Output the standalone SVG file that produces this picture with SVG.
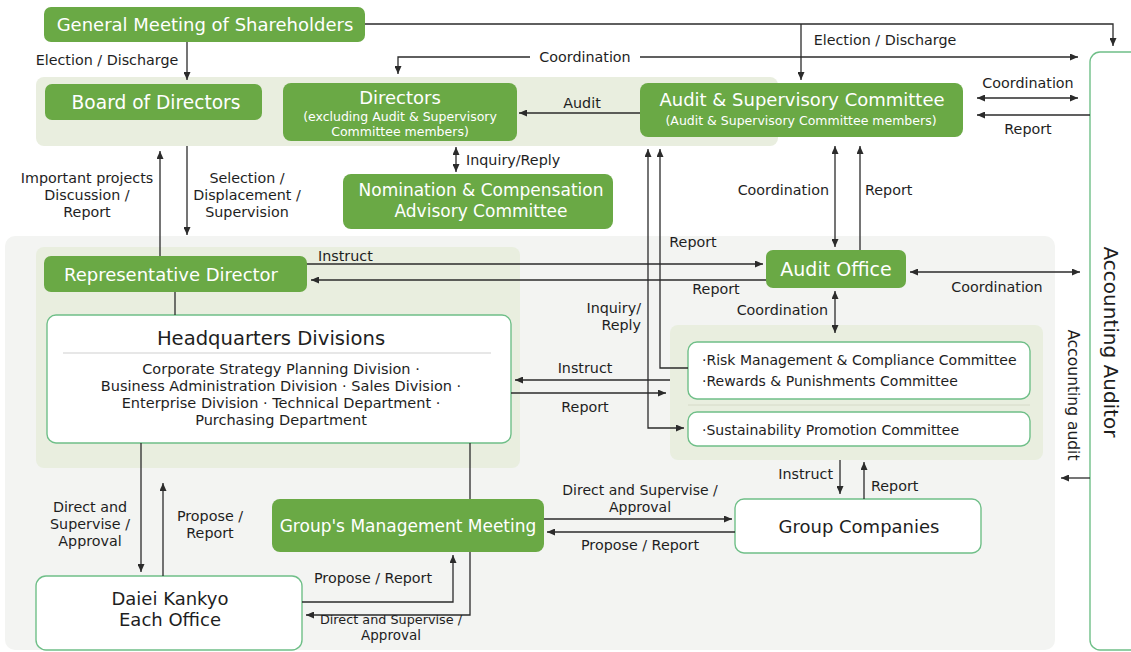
<svg xmlns="http://www.w3.org/2000/svg" width="1131" height="652" viewBox="0 0 1131 652">
<defs>
<marker id="ar" viewBox="0 0 8 7" refX="8" refY="3.5" markerWidth="8" markerHeight="7" markerUnits="userSpaceOnUse" orient="auto-start-reverse">
<path d="M0,0 L8,3.5 L0,7 z" fill="#2b2b2b"/>
</marker>
<style>
text{font-family:"DejaVu Sans","Noto Sans",sans-serif}
.g{fill:#6aa945}
.w{fill:#fff;stroke:#6fbf88;stroke-width:1.4}
.band{fill:#e9eedf}
.tw{fill:#fff;font-size:18px;text-anchor:middle}
.ts{fill:#fff;font-size:12.5px;text-anchor:middle}
.td{fill:#1e1e1e;font-size:18px;text-anchor:middle}
.tb{fill:#1e1e1e;font-size:14px}
.lb{fill:#1e1e1e;font-size:14.3px}
.m{text-anchor:middle}
.e{text-anchor:end}
.c path{fill:none;stroke:#2b2b2b;stroke-width:1.3}
.c .a{marker-end:url(#ar)}
.c .b{marker-start:url(#ar);marker-end:url(#ar)}
</style>
</defs>
<rect width="1131" height="652" fill="#fff"/>
<!-- background regions -->
<rect x="36" y="77" width="742" height="69" rx="8" class="band"/>
<rect x="5" y="236" width="1050" height="414" rx="10" fill="#f3f4f2"/>
<rect x="36" y="247" width="484" height="221" rx="8" class="band"/>
<rect x="670" y="325" width="373" height="135" rx="8" class="band"/>
<line x1="688" y1="405" x2="1030" y2="405" stroke="#d6dac8" stroke-width="1"/>

<g id="gms"><rect x="44" y="7" width="321" height="35" rx="7" class="g"/><text x="205" y="31" class="tw">General Meeting of Shareholders</text></g>
<g id="board"><rect x="45" y="84" width="217" height="36" rx="7" class="g"/><text x="156" y="109" class="tw" style="font-size:18.6px">Board of Directors</text></g>
<g id="directors"><rect x="283" y="83" width="234" height="58" rx="8" class="g"/><text x="400" y="104" class="tw">Directors</text><text x="400" y="121" class="ts">(excluding Audit &amp; Supervisory</text><text x="400" y="135.5" class="ts">Committee members)</text></g>
<g id="asc"><rect x="640" y="83" width="323" height="54" rx="8" class="g"/><text x="802" y="106" class="tw">Audit &amp; Supervisory Committee</text><text x="801" y="125" class="ts">(Audit &amp; Supervisory Committee members)</text></g>
<g id="nomination"><rect x="343" y="174" width="270" height="55" rx="8" class="g"/><text x="481" y="196" class="tw" style="font-size:17px">Nomination &amp; Compensation</text><text x="481" y="217" class="tw" style="font-size:17px">Advisory Committee</text></g>
<g id="rep"><rect x="44" y="256" width="263" height="36" rx="7" class="g"/><text x="171" y="281" class="tw">Representative Director</text></g>
<g id="hq"><rect x="47" y="315" width="464" height="128" rx="9" class="w"/><text x="271" y="345" class="td" style="font-size:19.6px">Headquarters Divisions</text><line x1="63" y1="353" x2="491" y2="353" stroke="#cfcfcf" stroke-width="1"/>
<text x="281" y="374" class="tb m" style="font-size:14.5px">Corporate Strategy Planning Division ·</text>
<text x="281" y="391" class="tb m" style="font-size:14.5px">Business Administration Division · Sales Division ·</text>
<text x="281" y="408" class="tb m" style="font-size:14.5px">Enterprise Division · Technical Department ·</text>
<text x="281" y="425" class="tb m" style="font-size:14.5px">Purchasing Department</text></g>
<g id="auditoffice"><rect x="766" y="250" width="140" height="38" rx="7" class="g"/><text x="836" y="276" class="tw" style="font-size:19px">Audit Office</text></g>
<g id="risk"><rect x="688" y="342" width="342" height="57" rx="9" class="w"/><text x="702" y="365" class="tb">·Risk Management &amp; Compliance Committee</text><text x="702" y="386" class="tb">·Rewards &amp; Punishments Committee</text></g>
<g id="sust"><rect x="688" y="412" width="342" height="34" rx="9" class="w"/><text x="702" y="435" class="tb">·Sustainability Promotion Committee</text></g>
<g id="gc"><rect x="735" y="499" width="246" height="54" rx="9" class="w"/><text x="859" y="533" class="td">Group Companies</text></g>
<g id="gmm"><rect x="272" y="499" width="272" height="53" rx="8" class="g"/><text x="408" y="532" class="tw" style="font-size:17px">Group's Management Meeting</text></g>
<g id="daiei"><rect x="36" y="576" width="266" height="74" rx="10" class="w"/><text x="170" y="605" class="td">Daiei Kankyo</text><text x="170" y="626" class="td">Each Office</text></g>
<g id="auditor"><rect x="1090" y="52" width="70" height="598" rx="10" class="w"/><text transform="translate(1111,342) rotate(90)" y="7" class="td" style="font-size:20px">Accounting Auditor</text></g>

<g id="connectors" class="c">
<path class="a" d="M365,24 H1113 V46"/>
<path class="a" d="M801,24 V80"/>
<path class="a" d="M187,42 V80"/>
<path class="a" d="M530,57 H398 V74"/>
<path class="a" d="M640,57 H1078"/>
<path class="a" d="M640,113 H519"/>
<path class="b" d="M977,98 H1078"/>
<path class="a" d="M1090,115 H977"/>
<path class="b" d="M456,147 V172"/>
<path class="a" d="M160,256 V151"/>
<path class="a" d="M187,146 V235"/>
<path d="M175,292 V315"/>
<path class="a" d="M307,264 H763"/>
<path class="a" d="M766,280 H311"/>
<path class="b" d="M684,428 H648 V149"/>
<path class="a" d="M688,368 H660 V149"/>
<path class="b" d="M835,146 V247"/>
<path class="a" d="M860,250 V146"/>
<path class="b" d="M835,291 V333"/>
<path class="b" d="M910,272 H1080"/>
<path class="a" d="M670,380 H515"/>
<path class="a" d="M511,393 H666"/>
<path class="a" d="M840,460 V494"/>
<path class="a" d="M864,499 V462"/>
<path class="a" d="M544,519 H732"/>
<path class="a" d="M735,532 H547"/>
<path class="a" d="M141,443 V572"/>
<path class="a" d="M163,576 V483"/>
<path d="M470,443 V499"/>
<path class="a" d="M470,552 V615 H306"/>
<path class="a" d="M302,602 H453 V555"/>
<path class="a" d="M1090,478 H1061"/>
</g>

<g id="labels">
<text x="107" y="65" class="lb m">Election / Discharge</text>
<text x="885" y="45" class="lb m">Election / Discharge</text>
<text x="585" y="62" class="lb m">Coordination</text>
<text x="582" y="108" class="lb m">Audit</text>
<text x="1028" y="88" class="lb m">Coordination</text>
<text x="1028" y="134" class="lb m">Report</text>
<text x="466" y="165" class="lb">Inquiry/Reply</text>
<text x="87" y="183" class="lb m">Important projects</text>
<text x="87" y="200" class="lb m">Discussion /</text>
<text x="87" y="217" class="lb m">Report</text>
<text x="247" y="183" class="lb m">Selection /</text>
<text x="247" y="200" class="lb m">Displacement /</text>
<text x="247" y="217" class="lb m">Supervision</text>
<text x="829" y="195" class="lb e">Coordination</text>
<text x="865" y="195" class="lb">Report</text>
<text x="693" y="247" class="lb m">Report</text>
<text x="318" y="261" class="lb">Instruct</text>
<text x="716" y="294" class="lb m">Report</text>
<text x="997" y="292" class="lb m">Coordination</text>
<text x="641" y="313" class="lb e">Inquiry/</text>
<text x="641" y="330" class="lb e">Reply</text>
<text x="828" y="315" class="lb e">Coordination</text>
<text x="585" y="373" class="lb m">Instruct</text>
<text x="585" y="412" class="lb m">Report</text>
<text x="833" y="479" class="lb e">Instruct</text>
<text x="871" y="491" class="lb">Report</text>
<text x="640" y="495" class="lb m" style="font-size:14px">Direct and Supervise /</text>
<text x="640" y="512" class="lb m" style="font-size:14px">Approval</text>
<text x="640" y="550" class="lb m">Propose / Report</text>
<text x="90" y="512" class="lb m">Direct and</text>
<text x="90" y="529" class="lb m">Supervise /</text>
<text x="90" y="546" class="lb m">Approval</text>
<text x="210" y="521" class="lb m">Propose /</text>
<text x="210" y="538" class="lb m">Report</text>
<text x="373" y="583" class="lb m">Propose / Report</text>
<text x="391" y="624" class="lb m" style="font-size:12.8px">Direct and Supervise /</text>
<text x="391" y="640" class="lb m" style="font-size:13.5px">Approval</text>
<text transform="translate(1073,395) rotate(90)" y="5" class="lb m" style="font-size:15.5px">Accounting audit</text>
</g>
</svg>
